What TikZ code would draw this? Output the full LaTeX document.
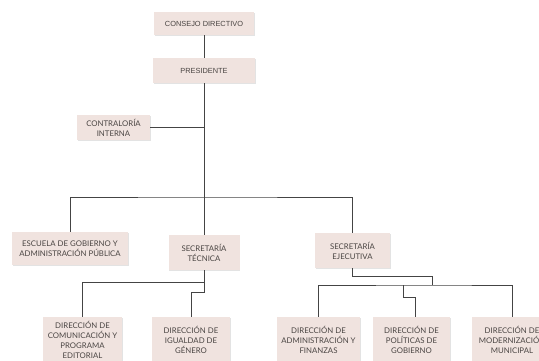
\documentclass[tikz,border=0pt]{standalone}
\usepackage{fontspec}
\setmainfont{Lato}
\newfontfamily\arialfont{Liberation Sans}
\usepackage{xcolor}
\usetikzlibrary{positioning, shadows}

\definecolor{boxfill}{HTML}{F0E3DF}
\definecolor{boxtext}{HTML}{4A4543}
\definecolor{linegray}{HTML}{444444}

\begin{document}
\begin{tikzpicture}[
    x=1pt, y=-1pt,
    box/.style={
      rectangle, fill=boxfill, align=center, inner sep=2pt,
      text=boxtext, font=\fontsize{7.8}{10}\selectfont,
      drop shadow={shadow xshift=0.6pt, shadow yshift=-1.2pt,
                   opacity=0.18, fill=black!60}
    },
    topbox/.style={box, font=\arialfont\fontsize{7.4}{9}\selectfont},
    dirbox/.style={box, minimum height=46pt},
    link/.style={draw=linegray, line width=0.8pt}
  ]

    \useasboundingbox (0,0) rectangle (539,360);
    \clip (0,0) rectangle (539,360);

    % ── Top of the chart ──
    \node[topbox, minimum width=100pt, minimum height=23pt]
      (consejo) at (204,23.5) {CONSEJO DIRECTIVO};
    \node[topbox, minimum width=102pt, minimum height=25pt]
      (presidente) at (204,70.5) {PRESIDENTE};
    \node[box, minimum width=73pt, minimum height=25pt]
      (contraloria) at (113.5,127.5) {CONTRALORÍA\\INTERNA};

    % ── Second level ──
    \node[box, minimum width=116pt, minimum height=33pt]
      (escuela) at (70,248.5) {ESCUELA DE GOBIERNO Y\\ADMINISTRACIÓN PÚBLICA};
    \node[box, minimum width=71pt, minimum height=35pt]
      (tecnica) at (204,252.5) {SECRETARÍA\\TÉCNICA};
    \node[box, minimum width=75pt, minimum height=35pt]
      (ejecutiva) at (352.5,250.5) {SECRETARÍA\\EJECUTIVA};

    % ── Directions ──
    \node[dirbox, minimum width=79pt]
      (comunicacion) at (82.5,340) {DIRECCIÓN DE\\COMUNICACIÓN Y\\PROGRAMA\\EDITORIAL};
    \node[dirbox, minimum width=78pt]
      (igualdad) at (191,340) {DIRECCIÓN DE\\IGUALDAD DE\\GÉNERO};
    \node[dirbox, minimum width=83pt]
      (administracion) at (318.5,340) {DIRECCIÓN DE\\ADMINISTRACIÓN Y\\FINANZAS};
    \node[dirbox, minimum width=77pt]
      (politicas) at (411.5,340) {DIRECCIÓN DE\\POLÍTICAS DE\\GOBIERNO};
    \node[dirbox, minimum width=80pt]
      (modernizacion) at (512,340) {DIRECCIÓN DE\\MODERNIZACIÓN\\MUNICIPAL};

    % ── Bend points ──
    \coordinate (bus) at (204,197);
    \coordinate (tb1) at (204,282);
    \coordinate (tb2) at (204,292);
    \coordinate (ec) at (432,276);
    \coordinate (eb) at (432,285);
    \coordinate (pb1) at (403,285);
    \coordinate (pb2) at (415,297);

    % ── Connectors ──
    \draw[link] (consejo) -- (presidente);
    \draw[link] (presidente) -- (tecnica);
    \draw[link] (contraloria.east) -- (contraloria.east -| presidente.south);
    \draw[link] (escuela.north) |- (bus) -| (ejecutiva.north);

    \draw[link] (tecnica.south) -- (tb2) -| (igualdad.north);
    \draw[link] (tb1) -| (comunicacion.north);

    \draw[link] (ejecutiva.south) |- (ec) -- (eb);
    \draw[link] (administracion.north) |- (eb) -| (modernizacion.north);
    \draw[link] (pb1) |- (pb2) -- (pb2 |- politicas.north);

  \end{tikzpicture}
\end{document}
